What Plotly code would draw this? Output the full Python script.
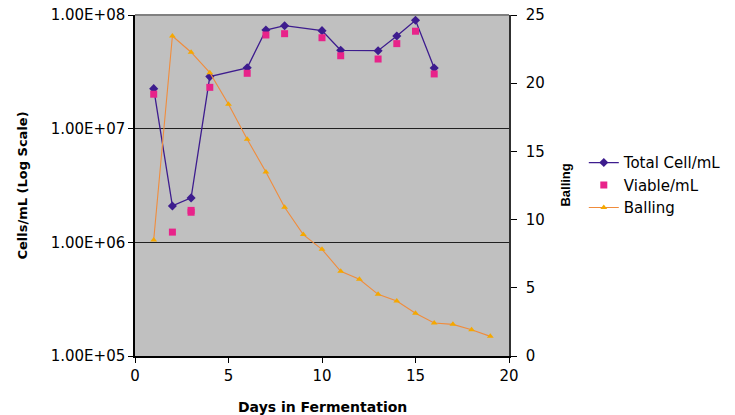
import plotly.graph_objects as go

# ---- data ----
days_cells = [1, 2, 3, 4, 6, 7, 8, 10, 11, 13, 14, 15, 16]
total_cells = [2.25e7, 2.09e6, 2.46e6, 2.87e7, 3.43e7, 7.38e7, 8.05e7, 7.28e7,
               4.89e7, 4.85e7, 6.53e7, 8.98e7, 3.42e7]
days_viable = [1, 2, 3, 3, 4, 6, 7, 8, 10, 11, 13, 14, 15, 16]
viable = [2.01e7, 1.23e6, 1.84e6, 1.91e6, 2.31e7, 3.07e7, 6.67e7, 6.85e7, 6.31e7,
          4.38e7, 4.10e7, 5.6e7, 7.2e7, 3.03e7]
days_balling = list(range(1, 20))
balling = [8.5, 23.46, 22.27, 20.77, 18.45, 15.89, 13.49, 10.9, 8.9, 7.82, 6.21,
           5.62, 4.52, 4.03, 3.13, 2.42, 2.32, 1.93, 1.44]

log_tickvals = [1e5, 1e6, 1e7, 1e8]
log_ticktext = ["1.00E+05", "1.00E+06", "1.00E+07", "1.00E+08"]

ARIAL = "Liberation Sans, Arial, sans-serif"
WIDE = "DejaVu Sans, Verdana, sans-serif"

fig = go.Figure()
fig.add_trace(go.Scatter(
    x=days_cells, y=total_cells, name="Total Cell/mL", mode="lines+markers",
    line=dict(color="#3D1C8E", width=1.3),
    marker=dict(symbol="diamond", size=7, color="#3D1C8E"),
))
fig.add_trace(go.Scatter(
    x=days_viable, y=viable, name="Viable/mL", mode="markers",
    marker=dict(symbol="square", size=7, color="#E8238A"),
))
fig.add_trace(go.Scatter(
    x=days_balling, y=balling, name="Balling", mode="lines+markers", yaxis="y2",
    line=dict(color="#F08C3C", width=1.1),
    marker=dict(symbol="triangle-up", size=6, color="#F5A800"),
))

tickfont = dict(family=WIDE, size=15)

fig.update_layout(
    width=735, height=415,
    margin=dict(l=135, r=226, t=15, b=59, autoexpand=False),
    paper_bgcolor="white",
    plot_bgcolor="#C0C0C0",
    font=dict(family=ARIAL, size=14, color="black"),
    showlegend=True,
    legend=dict(x=1.2, y=0.615, xanchor="left", yanchor="top",
                font=dict(family=WIDE, size=15), bgcolor="rgba(0,0,0,0)",
                tracegroupgap=3, itemwidth=30),
    xaxis=dict(range=[0, 20], tickvals=[0, 5, 10, 15, 20], showgrid=False,
               zeroline=False, showline=True, linecolor="black", linewidth=1.5,
               ticks="outside", ticklen=5, tickcolor="black",
               tickfont=tickfont),
    yaxis=dict(type="log", range=[5, 8], tickvals=log_tickvals,
               ticktext=log_ticktext, showgrid=True, gridcolor="#202020",
               gridwidth=1, zeroline=False, showline=True, linecolor="black",
               linewidth=1.5, ticks="outside", ticklen=5, tickcolor="black",
               tickfont=tickfont),
    yaxis2=dict(overlaying="y", side="right", range=[0, 25],
                tickvals=[0, 5, 10, 15, 20, 25], showgrid=False, zeroline=False,
                showline=True, linecolor="#303030", linewidth=1.5,
                ticks="outside", ticklen=6, tickcolor="black",
                ticklabelstandoff=6, tickfont=tickfont),
    shapes=[dict(type="line", xref="paper", yref="paper", x0=0, x1=1, y0=1, y1=1,
                 line=dict(color="#808080", width=2))],
    annotations=[
        dict(text="<b>Cells/mL (Log Scale)</b>", xref="paper", yref="paper",
             x=-0.302, y=0.5, textangle=-90, showarrow=False,
             font=dict(family=WIDE, size=13), xanchor="center", yanchor="middle"),
        dict(text="<b>Balling</b>", xref="paper", yref="paper",
             x=1.15, y=0.5, textangle=-90, showarrow=False,
             font=dict(family=ARIAL, size=13), xanchor="center", yanchor="middle"),
        dict(text="<b>Days in Fermentation</b>", xref="paper", yref="paper",
             x=0.5, y=-0.15, showarrow=False, font=dict(family=WIDE, size=14),
             xanchor="center", yanchor="middle"),
    ],
)

fig.write_html("out.html", config={"displayModeBar": False},
               post_script="document.body.style.margin='0';document.body.style.overflow='hidden';")
